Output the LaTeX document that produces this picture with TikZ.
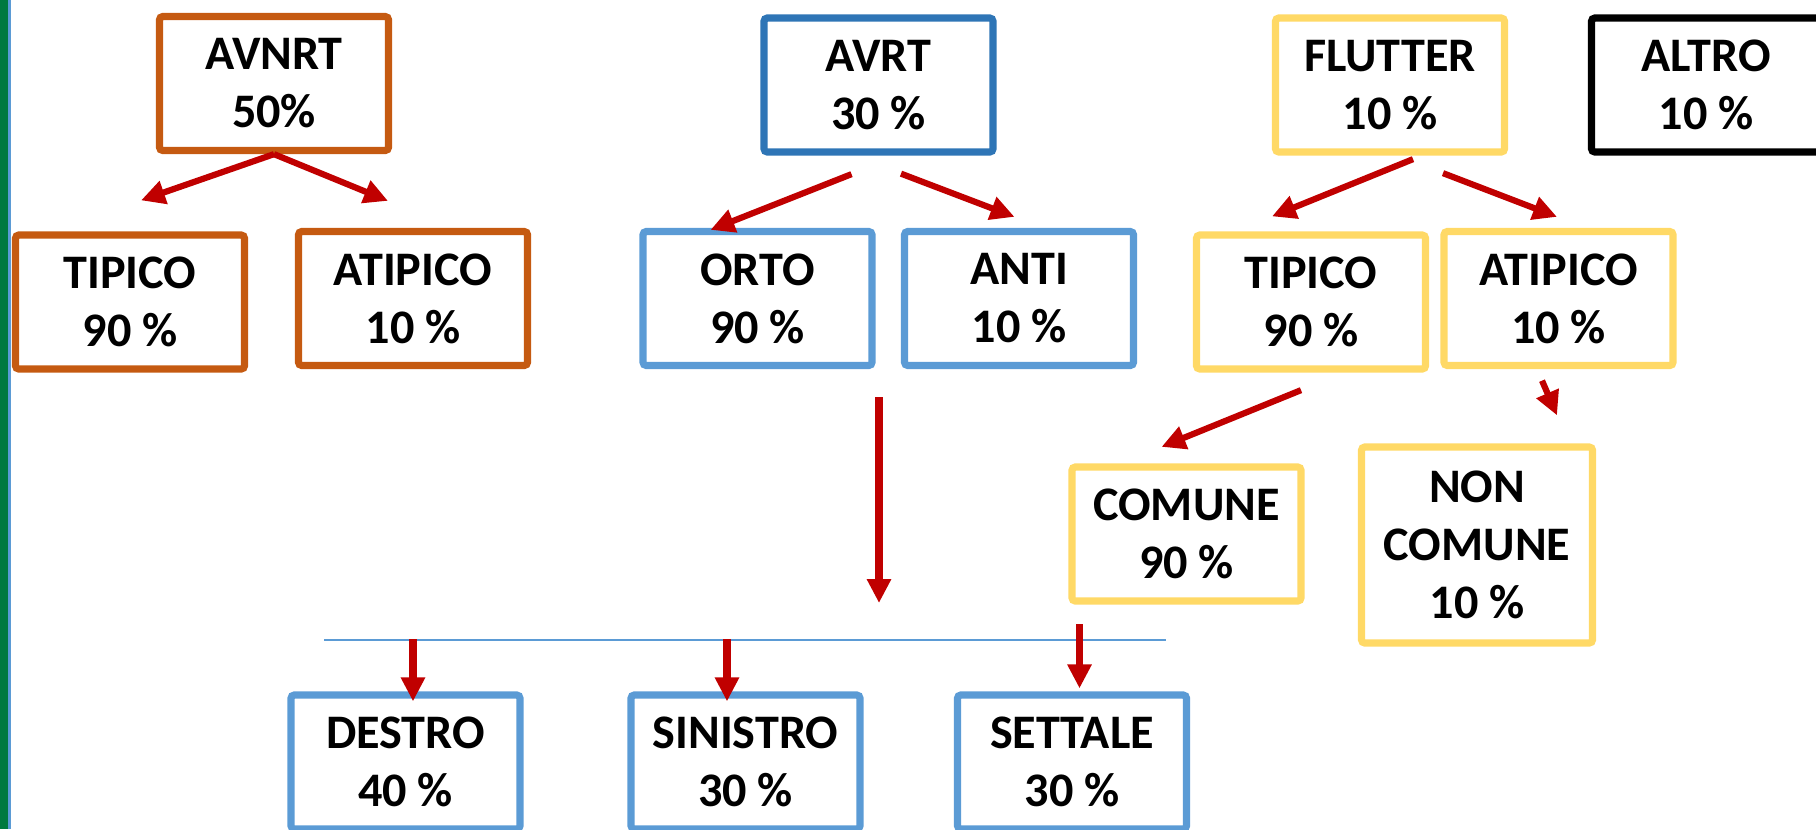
\documentclass[tikz,border=0pt]{standalone}
\usepackage{fontspec}
\setmainfont{Carlito}
\usetikzlibrary{arrows.meta}
\definecolor{arancio}{HTML}{C55A11}
\definecolor{bluscuro}{HTML}{2E75B6}
\definecolor{bluchiaro}{HTML}{5B9BD5}
\definecolor{giallo}{HTML}{FFD966}
\definecolor{rosso}{HTML}{C00000}
\definecolor{verde}{HTML}{00793F}

\begin{document}
\begin{tikzpicture}[x=0.01cm, y=-0.01cm, >={Triangle[length=0.24cm,width=0.23cm]},
    box/.style={draw, line width=0.072cm, rounded corners=1pt, minimum width=2.29cm, minimum height=1.34cm,
        inner sep=0pt, align=center, font=\bfseries\fontsize{13.7}{16.5}\selectfont},
    freccia/.style={->, rosso, line width=0.062cm}]
    \clip (0,0) rectangle (1816,829);
    \fill[verde] (0,0) rectangle (8.3,829);
    \draw[bluchiaro, line width=0.03cm] (9.8,0)--(9.8,829);

    % AVNRT
    \node[box, arancio] (avnrt) at (274,83.5) {\color{black}AVNRT\\\color{black}50\%};
    \node[box, arancio] (tipicoA) at (130,302) {\color{black}TIPICO\\\color{black}90 \%};
    \node[box, arancio] (atipicoA) at (413,298.5) {\color{black}ATIPICO\\\color{black}10 \%};
    \draw[freccia] (avnrt.south)--([shift={(11,-31)}]tipicoA.north);
    \draw[freccia] (avnrt.south)--([shift={(-25,-27)}]atipicoA.north);

    % AVRT
    \node[box, bluscuro] (avrt) at (878.5,85) {\color{black}AVRT\\\color{black}30 \%};
    \node[box, bluchiaro] (orto) at (757.5,298.5) {\color{black}ORTO\\\color{black}90 \%};
    \node[box, bluchiaro] (anti) at (1019,298.5) {\color{black}ANTI\\\color{black}10 \%};
    \draw[freccia] ([shift={(-27,18.5)}]avrt.south)--([shift={(-47,2)}]orto.north);
    \draw[freccia] ([shift={(22.5,18)}]avrt.south)--([shift={(-4.5,-11)}]anti.north);

    % FLUTTER
    \node[box, giallo] (flutter) at (1390,85) {\color{black}FLUTTER\\\color{black}10 \%};
    \node[box, black] (altro) at (1706,85) {ALTRO\\10 \%};
    \node[box, giallo] (tipicoF) at (1311,302) {\color{black}TIPICO\\\color{black}90 \%};
    \node[box, giallo] (atipicoF) at (1558.5,298.5) {\color{black}ATIPICO\\\color{black}10 \%};
    \node[box, giallo] (comune) at (1186.5,534) {\color{black}COMUNE\\\color{black}90 \%};
    \node[box, giallo, minimum width=2.31cm, minimum height=1.96cm] (noncomune) at (1477,545)
        {\color{black}NON\\\color{black}COMUNE\\\color{black}10 \%};
    \draw[freccia] ([shift={(23,3.5)}]flutter.south)--([shift={(-39,-15)}]tipicoF.north);
    \draw[freccia] ([shift={(53,17.5)}]flutter.south)--([shift={(-1.5,-11)}]atipicoF.north);
    \draw[freccia] ([shift={(-10,17.5)}]tipicoF.south)--([shift={(-25,-16.5)}]comune.north);
    \draw[freccia] ([shift={(-16.5,11.5)}]atipicoF.south)--([shift={(80,-28)}]noncomune.north);

    % sede
    \coordinate (alto) at (879,397);
    \coordinate (basso) at (879,603);
    \draw[freccia, line width=0.075cm] (alto)--(basso);
    \coordinate (lineasx) at (324,640);
    \coordinate (lineadx) at (1166,640);
    \draw[bluchiaro, line width=0.012cm] (lineasx)--(lineadx);
    \node[box, bluchiaro] (destro) at (405.5,762) {\color{black}DESTRO\\\color{black}40 \%};
    \node[box, bluchiaro] (sinistro) at (745.5,762) {\color{black}SINISTRO\\\color{black}30 \%};
    \node[box, bluchiaro] (settale) at (1072,762) {\color{black}SETTALE\\\color{black}30 \%};
    \foreach \n/\dx/\ya/\yb in {destro/7.5/-52/10, sinistro/-18.5/-52/10, settale/7.5/-67/-3}
    {
        \draw[freccia, line width=0.075cm] ([shift={(\dx,\ya)}]\n.north)--([shift={(\dx,\yb)}]\n.north);
    }
\end{tikzpicture}
\end{document}
